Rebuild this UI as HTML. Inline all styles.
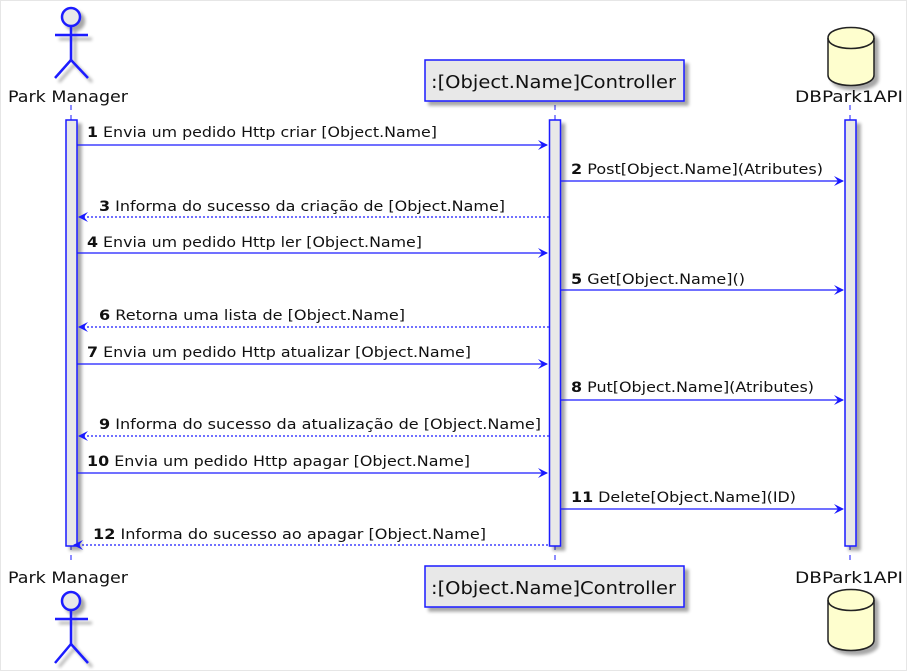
<!DOCTYPE html>
<html><head><meta charset="utf-8"><style>
html,body{margin:0;padding:0;background:#fff;}
svg{display:block;font-family:"DejaVu Sans","Liberation Sans",sans-serif;}
</style></head><body>
<svg width="907" height="671" viewBox="0 0 907 671" xmlns="http://www.w3.org/2000/svg">
<defs>
<filter id="sh" x="-20%" y="-20%" width="150%" height="150%"><feGaussianBlur in="SourceAlpha" stdDeviation="1.5"/><feOffset dx="4" dy="4"/><feComponentTransfer><feFuncA type="linear" slope="0.35"/></feComponentTransfer><feMerge><feMergeNode/><feMergeNode in="SourceGraphic"/></feMerge></filter>
</defs>
<rect x="0.5" y="0.5" width="906" height="670" fill="#fff" stroke="#e6e6e6"/>
<g stroke="#1a1aff" stroke-width="1" stroke-dasharray="5,5">
<line x1="71" y1="105" x2="71" y2="565"/>
<line x1="555" y1="105" x2="555" y2="565"/>
<line x1="850" y1="105" x2="850" y2="565"/>
</g>
<g fill="#e8e8e8" stroke="#1a1aff" stroke-width="1.5" filter="url(#sh)">
<rect x="66" y="120" width="11" height="426"/>
<rect x="549.5" y="120" width="11" height="426"/>
<rect x="845" y="120" width="11" height="426"/>
</g>
<g stroke="#1a1aff" stroke-width="2.5" fill="none" filter="url(#sh)">
<circle cx="71" cy="17" r="9" fill="#e8e8e8"/>
<line x1="71" y1="26" x2="71" y2="60"/>
<line x1="55" y1="35" x2="88" y2="35"/>
<line x1="71" y1="60" x2="55" y2="78"/>
<line x1="71" y1="60" x2="88" y2="78"/>
</g>
<text x="8" y="102" font-size="16" textLength="120" lengthAdjust="spacingAndGlyphs" fill="#111">Park Manager</text>
<text x="8" y="583" font-size="16" textLength="120" lengthAdjust="spacingAndGlyphs" fill="#111">Park Manager</text>
<g stroke="#1a1aff" stroke-width="2.5" fill="none" filter="url(#sh)">
<circle cx="71" cy="601" r="9" fill="#e8e8e8"/>
<line x1="71" y1="610" x2="71" y2="644"/>
<line x1="55" y1="619" x2="88" y2="619"/>
<line x1="71" y1="644" x2="55" y2="663"/>
<line x1="71" y1="644" x2="88" y2="663"/>
</g>
<g filter="url(#sh)">
<rect x="425" y="60" width="259" height="41" fill="#e8e8e8" stroke="#1a1aff" stroke-width="1.5"/>
<rect x="425" y="566" width="259" height="41" fill="#e8e8e8" stroke="#1a1aff" stroke-width="1.5"/>
</g>
<text x="431" y="88" font-size="18" textLength="245" lengthAdjust="spacingAndGlyphs" fill="#111">:[Object.Name]Controller</text>
<text x="431" y="594" font-size="18" textLength="245" lengthAdjust="spacingAndGlyphs" fill="#111">:[Object.Name]Controller</text>
<g fill="#fefece" stroke="#222" stroke-width="1.5" filter="url(#sh)">
<path d="M828,38 C828,24 874,24 874,38 L874,75 C874,89 828,89 828,75 Z"/>
<path d="M828,600 C828,586 874,586 874,600 L874,640 C874,654 828,654 828,640 Z"/>
</g>
<g fill="none" stroke="#222" stroke-width="1.5">
<path d="M828,38 C828,52 874,52 874,38"/>
<path d="M828,600 C828,614 874,614 874,600"/>
</g>
<text x="795" y="102" font-size="16" textLength="108" lengthAdjust="spacingAndGlyphs" fill="#111">DBPark1API</text>
<text x="795" y="583" font-size="16" textLength="108" lengthAdjust="spacingAndGlyphs" fill="#111">DBPark1API</text>
<g stroke="#1a1aff" stroke-width="1.2" fill="none">
<line x1="77" y1="145" x2="547" y2="145"/>
<line x1="561" y1="181" x2="843" y2="181"/>
<line x1="79" y1="217" x2="549" y2="217" stroke-dasharray="2,2"/>
<line x1="77" y1="253" x2="547" y2="253"/>
<line x1="561" y1="290" x2="843" y2="290"/>
<line x1="79" y1="327" x2="549" y2="327" stroke-dasharray="2,2"/>
<line x1="77" y1="364" x2="547" y2="364"/>
<line x1="561" y1="400" x2="843" y2="400"/>
<line x1="79" y1="436" x2="549" y2="436" stroke-dasharray="2,2"/>
<line x1="77" y1="473" x2="547" y2="473"/>
<line x1="561" y1="509" x2="843" y2="509"/>
<line x1="74" y1="545" x2="549" y2="545" stroke-dasharray="2,2"/>
</g>
<g fill="#1a1aff">
<path d="M548,145 l-10,-5 l4,5 l-4,5z"/>
<path d="M844,181 l-10,-5 l4,5 l-4,5z"/>
<path d="M78,217 l10,-5 l-4,5 l4,5z"/>
<path d="M548,253 l-10,-5 l4,5 l-4,5z"/>
<path d="M844,290 l-10,-5 l4,5 l-4,5z"/>
<path d="M78,327 l10,-5 l-4,5 l4,5z"/>
<path d="M548,364 l-10,-5 l4,5 l-4,5z"/>
<path d="M844,400 l-10,-5 l4,5 l-4,5z"/>
<path d="M78,436 l10,-5 l-4,5 l4,5z"/>
<path d="M548,473 l-10,-5 l4,5 l-4,5z"/>
<path d="M844,509 l-10,-5 l4,5 l-4,5z"/>
<path d="M73,545 l10,-5 l-4,5 l4,5z"/>
</g>
<g font-size="14" fill="#111" lengthAdjust="spacingAndGlyphs">
<text x="87" y="137" textLength="350" lengthAdjust="spacingAndGlyphs"><tspan font-weight="bold">1</tspan> Envia um pedido Http criar [Object.Name]</text>
<text x="571" y="174" textLength="252" lengthAdjust="spacingAndGlyphs"><tspan font-weight="bold">2</tspan> Post[Object.Name](Atributes)</text>
<text x="99" y="211" textLength="406" lengthAdjust="spacingAndGlyphs"><tspan font-weight="bold">3</tspan> Informa do sucesso da criação de [Object.Name]</text>
<text x="87" y="247" textLength="335" lengthAdjust="spacingAndGlyphs"><tspan font-weight="bold">4</tspan> Envia um pedido Http ler [Object.Name]</text>
<text x="571" y="284" textLength="174" lengthAdjust="spacingAndGlyphs"><tspan font-weight="bold">5</tspan> Get[Object.Name]()</text>
<text x="99" y="320" textLength="306" lengthAdjust="spacingAndGlyphs"><tspan font-weight="bold">6</tspan> Retorna uma lista de [Object.Name]</text>
<text x="87" y="357" textLength="384" lengthAdjust="spacingAndGlyphs"><tspan font-weight="bold">7</tspan> Envia um pedido Http atualizar [Object.Name]</text>
<text x="571" y="392" textLength="243" lengthAdjust="spacingAndGlyphs"><tspan font-weight="bold">8</tspan> Put[Object.Name](Atributes)</text>
<text x="99" y="429" textLength="442" lengthAdjust="spacingAndGlyphs"><tspan font-weight="bold">9</tspan> Informa do sucesso da atualização de [Object.Name]</text>
<text x="87" y="466" textLength="383" lengthAdjust="spacingAndGlyphs"><tspan font-weight="bold">10</tspan> Envia um pedido Http apagar [Object.Name]</text>
<text x="571" y="502" textLength="225" lengthAdjust="spacingAndGlyphs"><tspan font-weight="bold">11</tspan> Delete[Object.Name](ID)</text>
<text x="93" y="539" textLength="393" lengthAdjust="spacingAndGlyphs"><tspan font-weight="bold">12</tspan> Informa do sucesso ao apagar [Object.Name]</text>
</g>
</svg>
</body></html>
